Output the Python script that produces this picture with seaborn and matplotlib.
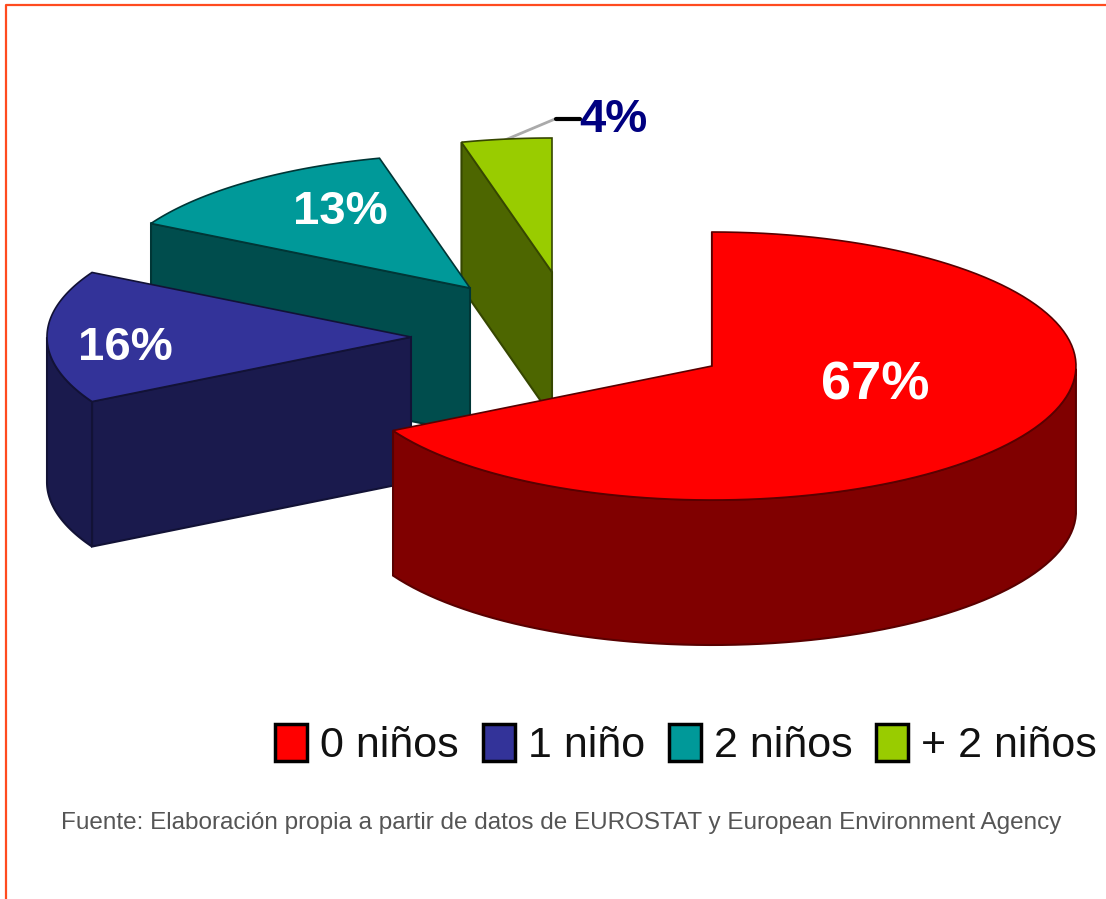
import numpy as np
import matplotlib
matplotlib.use('Agg')
import matplotlib.pyplot as plt
from matplotlib.patches import Patch
import seaborn as sns

labels = ['0 niños', '1 niño', '2 niños', '+ 2 niños']
shares = [67, 16, 13, 4]
colors = ['#FF0000', '#333399', '#009999', '#99CC00']
source = 'Fuente: Elaboración propia a partir de datos de EUROSTAT y European Environment Agency'

# layout of the exploded pie, in pixels of the picture
centres = [(712, 366), (411, 337), (470, 288), (552, 272)]
rx, ry, depth = 364, 134, 145
pct_pos = [(875, 385), (125, 348), (340, 212), (613, 120)]
pct_size = [39, 34, 34, 34]
pct_color = ['white', 'white', 'white', '#000080']

sns.set_theme(style='white')
plt.rcParams['font.family'] = ['Liberation Sans Narrow', 'Liberation Sans', 'DejaVu Sans']
palette = sns.color_palette(colors)


def ellipse(c, a):
    return c[0] + rx * np.cos(a), c[1] - ry * np.sin(a)


fig = plt.figure(figsize=(11.06, 8.99), dpi=100)
ax = fig.add_axes([0, 0, 1, 1])
ax.set_xlim(0, 1106)
ax.set_ylim(899, 0)
ax.axis('off')

# orange frame, only top and left
ax.plot([6, 6, 1106], [899, 5, 5], color='#FF4B1F', lw=1.6, zorder=1)

# slices go clockwise from 12 o'clock
ends = 90 - np.cumsum(shares) * 3.6
starts = np.r_[90, ends[:-1]]

# back slices first so the red one ends on top
for i in range(len(shares) - 1, -1, -1):
    c = centres[i]
    top = palette[i]
    side = tuple(v / 2 for v in top)
    line = tuple(v * 0.35 for v in top)
    z = 10 + (len(shares) - i) * 3
    a = np.radians(np.linspace(starts[i], ends[i], 120))
    ex, ey = ellipse(c, a)

    # flat side from the centre to the first edge
    sx, sy = ellipse(c, a[0])
    ax.fill([c[0], sx, sx, c[0]], [c[1], sy, sy + depth, c[1] + depth],
            facecolor=side, edgecolor=line, lw=1.5, zorder=z)

    # curved side, only where the rim faces the viewer
    front = np.sin(a) <= 0
    if front.sum() > 1:
        ax.fill(np.r_[ex[front], ex[front][::-1]],
                np.r_[ey[front], ey[front][::-1] + depth],
                facecolor=side, edgecolor=line, lw=1.5, zorder=z + 1)

    ax.fill(np.r_[c[0], ex], np.r_[c[1], ey],
            facecolor=top, edgecolor=line, lw=1.2, zorder=z + 2)

    ax.text(pct_pos[i][0], pct_pos[i][1], f'{shares[i]}%', color=pct_color[i],
            fontsize=pct_size[i], fontweight='bold', ha='center', va='center', zorder=40)

# leader line of the small slice
ax.plot([505, 555], [140, 119], color='#AAAAAA', lw=2, zorder=5)
ax.plot([556, 580], [119, 119], color='black', lw=3, zorder=5)

handles = [Patch(facecolor=col, edgecolor='black', lw=2.5) for col in palette]
ax.legend(handles, labels, ncol=4, frameon=False, fontsize=31,
          loc='center', bbox_to_anchor=(686 / 1106, 1 - 745 / 899),
          handlelength=0.75, handleheight=0.95, handletextpad=0.3,
          columnspacing=0.55, labelcolor='#111111')

ax.text(561, 823, source, color='#555555', fontsize=17.5, ha='center', va='center')

fig.savefig('out.png', dpi=100)
